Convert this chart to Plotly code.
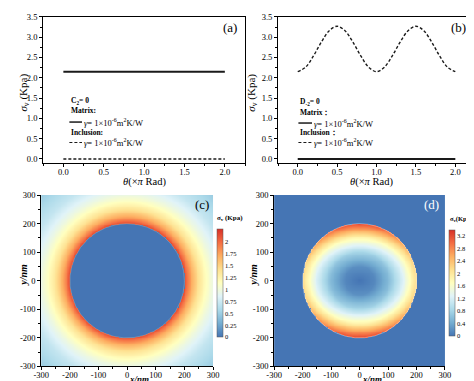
import numpy as np
import plotly.graph_objects as go

W, H = 474, 381
FONT = "Liberation Serif"

# ---------------- data ----------------
theta = [0.0, 0.1, 0.2, 0.3, 0.4, 0.5, 0.6, 0.7, 0.8, 0.9, 1.0,
         1.1, 1.2, 1.3, 1.4, 1.5, 1.6, 1.7, 1.8, 1.9, 2.0]
matrix_a = [2.15] * 21
inclusion_a = [0.0] * 21
matrix_b = [0.0] * 21
inclusion_b = [2.15, 2.26, 2.54, 2.88, 3.16, 3.27, 3.16, 2.88, 2.54, 2.26, 2.15,
               2.26, 2.54, 2.88, 3.16, 3.27, 3.16, 2.88, 2.54, 2.26, 2.15]

inclusion_radius = 200
r_c = [200, 210, 225, 250, 275, 300, 350, 425]
sigma_c = [2.15, 1.95, 1.70, 1.38, 1.14, 0.96, 0.70, 0.48]
# panel (d): inclusion stress fraction vs r/R
rr_d = [0.0, 0.25, 0.5, 0.75, 1.0]
frac_d = [0.0, 0.0625, 0.25, 0.5625, 1.0]

cb_ticks_c = [0, 0.25, 0.5, 0.75, 1, 1.25, 1.5, 1.75, 2]
cb_text_c = ["0", "0.25", "0.5", "0.75", "1", "1.25", "1.5", "1.75", "2"]
cb_ticks_d = [0, 0.4, 0.8, 1.2, 1.6, 2.0, 2.4, 2.8, 3.2]
cb_text_d = ["0", "0.4", "0.8", "1.2", "1.6", "2", "2.4", "2.8", "3.2"]
nm_ticks = [-300, -200, -100, 0, 100, 200, 300]
nm_text = ["-300", "-200", "-100", "0", "100", "200", "300"]
nm_minor = [-250, -150, -50, 50, 150, 250]

# ---------------- fields ----------------
xs = np.linspace(-300, 300, 201)
ys = np.linspace(-300, 300, 201)
X, Y = np.meshgrid(xs, ys)
R = np.hypot(X, Y)
TH = np.mod(np.arctan2(Y, X), 2 * np.pi) / np.pi
Zc = np.where(R < inclusion_radius, 0.0, np.interp(R, r_c, sigma_c))
bnd = np.interp(TH, theta, inclusion_b)
Zd = np.where(R <= inclusion_radius, np.interp(R / inclusion_radius, rr_d, frac_d) * bnd, 0.0)
Zc = np.round(Zc, 3)
Zd = np.round(Zd, 3)

cscale = [[0.0, "#4575b4"], [0.125, "#74add1"], [0.25, "#abd9e9"], [0.375, "#e0f3f8"],
          [0.5, "#ffffbf"], [0.625, "#fee090"], [0.75, "#fdae61"], [0.875, "#f46d43"],
          [1.0, "#d73027"]]


def px(x):
    return x / W


def py(y):
    return 1 - y / H


fig = go.Figure()

# panel (a)
fig.add_trace(go.Scatter(x=theta, y=matrix_a, mode="lines",
                         line=dict(color="#1a1a1a", width=2), xaxis="x", yaxis="y"))
fig.add_trace(go.Scatter(x=theta, y=inclusion_a, mode="lines",
                         line=dict(color="#1a1a1a", width=1.5, dash="3px,2px"), xaxis="x", yaxis="y"))
# panel (b)
fig.add_trace(go.Scatter(x=theta, y=matrix_b, mode="lines",
                         line=dict(color="#1a1a1a", width=2), xaxis="x2", yaxis="y2"))
fig.add_trace(go.Scatter(x=theta, y=inclusion_b, mode="lines", line_shape="spline",
                         line=dict(color="#1a1a1a", width=1.4, dash="3px,2px"), xaxis="x2", yaxis="y2"))

cbfont = dict(family=FONT, size=6.5, color="black")
# panel (c)
fig.add_trace(go.Heatmap(
    x=xs, y=ys, z=Zc, colorscale=cscale, zmin=0, zmax=2.27, xaxis="x3", yaxis="y3",
    zsmooth=False,
    colorbar=dict(x=px(207), xanchor="left", y=py(277.5), yanchor="middle",
                  len=111 / H, thickness=6, xpad=0, ypad=0, outlinewidth=0.5, outlinecolor="#555",
                  tickvals=cb_ticks_c, ticktext=cb_text_c, ticks="", ticklen=0,
                  tickfont=cbfont)))
# panel (d)
fig.add_trace(go.Heatmap(
    x=xs, y=ys, z=Zd, colorscale=cscale, zmin=0, zmax=3.39, xaxis="x4", yaxis="y4",
    zsmooth=False,
    colorbar=dict(x=px(446), xanchor="left", y=py(277.5), yanchor="middle",
                  len=109 / H, thickness=6, xpad=0, ypad=0, outlinewidth=0.5, outlinecolor="#555",
                  tickvals=cb_ticks_d, ticktext=cb_text_d, ticks="", ticklen=0,
                  tickfont=cbfont)))

t = np.linspace(0, 2 * np.pi, 361)
for xa, ya, col in (("x3", "y3", "rgba(170,170,170,0.7)"), ("x4", "y4", "rgba(235,235,235,0.6)")):
    fig.add_trace(go.Scatter(x=inclusion_radius * np.cos(t), y=inclusion_radius * np.sin(t),
                             mode="lines", line=dict(color=col, width=0.7),
                             xaxis=xa, yaxis=ya, hoverinfo="skip"))

tickfont = dict(family=FONT, size=8.5, color="black")
line_ax = dict(showline=True, linecolor="black", linewidth=1, showgrid=False, zeroline=False,
               ticks="outside", ticklen=3, tickcolor="black", tickfont=tickfont)
minor_ab = dict(ticks="outside", ticklen=2, dtick=0.25, tick0=0, tickcolor="black")
minor_nm = dict(ticks="outside", ticklen=2, tickvals=nm_minor, tickcolor="black")

fig.update_layout(
    width=W, height=H, margin=dict(l=0, r=0, t=0, b=0),
    paper_bgcolor="white", plot_bgcolor="white", showlegend=False,
    font=dict(family=FONT, color="black"),
    xaxis=dict(domain=[px(28), px(236)], range=[-0.25, 2.25], dtick=0.5, tick0=0,
               tickformat=".1f", mirror=True, anchor="y", ticklabelstandoff=-2,
               minor=minor_ab, **line_ax),
    yaxis=dict(domain=[py(154), py(4)], range=[-0.1, 3.5], dtick=0.5, tick0=0,
               tickformat=".1f", mirror=True, anchor="x", minor=minor_ab, **line_ax),
    xaxis2=dict(domain=[px(270), px(473)], range=[-0.25, 2.25], dtick=0.5, tick0=0,
                tickformat=".1f", mirror=True, anchor="y2", ticklabelstandoff=-2,
                minor=minor_ab, **line_ax),
    yaxis2=dict(domain=[py(154), py(4)], range=[-0.1, 3.5], dtick=0.5, tick0=0,
                tickformat=".1f", mirror=True, anchor="x2", minor=minor_ab, **line_ax),
    xaxis3=dict(domain=[px(26), px(203)], range=[-300, 300], tickvals=nm_ticks, ticktext=nm_text,
                anchor="y3", ticklabelstandoff=-3, minor=minor_nm, **line_ax),
    yaxis3=dict(domain=[py(363), py(187)], range=[-300, 300], tickvals=nm_ticks, ticktext=nm_text,
                anchor="x3", minor=minor_nm, **line_ax),
    xaxis4=dict(domain=[px(266), px(442)], range=[-300, 300], tickvals=nm_ticks, ticktext=nm_text,
                anchor="y4", ticklabelstandoff=-3, minor=minor_nm, **line_ax),
    yaxis4=dict(domain=[py(363), py(187)], range=[-300, 300], tickvals=nm_ticks, ticktext=nm_text,
                anchor="x4", minor=minor_nm, **line_ax),
)

ann = []


def A(x, y, text, size=8, angle=0, xanchor="center", color="black"):
    ann.append(dict(x=px(x), y=py(y), xref="paper", yref="paper", text=text, showarrow=False,
                    xanchor=xanchor, yanchor="middle", textangle=angle,
                    font=dict(family=FONT, size=size, color=color)))


# panel labels
A(220, 15, "(a)", 13)
A(456, 15, "(b)", 13)
A(192, 197, "(c)", 13)
A(428, 197, "(d)", 13, color="white")

# axis titles
xt = "<i>θ</i>(×<i>π</i> Rad)"
A(132, 174, xt, 10.5)
A(366, 174, xt, 10.5)
yt = "<i>σ</i><sub>v</sub> (Kpa)"
A(8, 82, yt, 11, angle=-90)
A(243, 82, yt, 11, angle=-90)
A(127, 375.5, "<b><i>x/nm</i></b>", 9)
A(367, 375.5, "<b><i>x/nm</i></b>", 9)
A(8, 269, "<b><i>y/nm</i></b>", 10, angle=-90)
A(245, 269, "<b><i>y/nm</i></b>", 10, angle=-90)

# colorbar titles
A(221, 211, "<b>σ<sub>v</sub> (Kpa)</b>", 7)
A(472, 212, "<b>σ<sub>v</sub>(Kpa)</b>", 6.5, xanchor="right")

# legend texts
gam = "<i>γ</i>= 1×10<sup>-6</sup>m<sup>2</sup>K/W"
A(55, 90, "<b>C<sub>2</sub>= 0</b>", 7.5, xanchor="left")
A(55, 100, "<b>Matrix:</b>", 7.5, xanchor="left")
A(68, 112, gam, 8.5, xanchor="left")
A(55, 123, "<b>Inclusion:</b>", 7.5, xanchor="left")
A(68, 133, gam, 8.5, xanchor="left")

A(291, 91, "<b>D<sub>-2</sub>= 0</b>", 7.5, xanchor="left")
A(291, 102, "<b>Matrix：</b>", 7.5, xanchor="left")
A(305, 113, gam, 8.5, xanchor="left")
A(291, 123, "<b>Inclusion：</b>", 7.5, xanchor="left")
A(305, 133, gam, 8.5, xanchor="left")

shapes = [
    dict(type="line", xref="paper", yref="paper", x0=px(55), x1=px(68), y0=py(112), y1=py(112),
         line=dict(color="#1a1a1a", width=1.5)),
    dict(type="line", xref="paper", yref="paper", x0=px(55), x1=px(68), y0=py(133), y1=py(133),
         line=dict(color="#1a1a1a", width=1.2, dash="3px,2px")),
    dict(type="line", xref="paper", yref="paper", x0=px(291), x1=px(305), y0=py(113), y1=py(113),
         line=dict(color="#1a1a1a", width=1.5)),
    dict(type="line", xref="paper", yref="paper", x0=px(291), x1=px(305), y0=py(133), y1=py(133),
         line=dict(color="#1a1a1a", width=1.2, dash="3px,2px")),
]

fig.update_layout(annotations=ann, shapes=shapes)
fig.write_html("out.html")
